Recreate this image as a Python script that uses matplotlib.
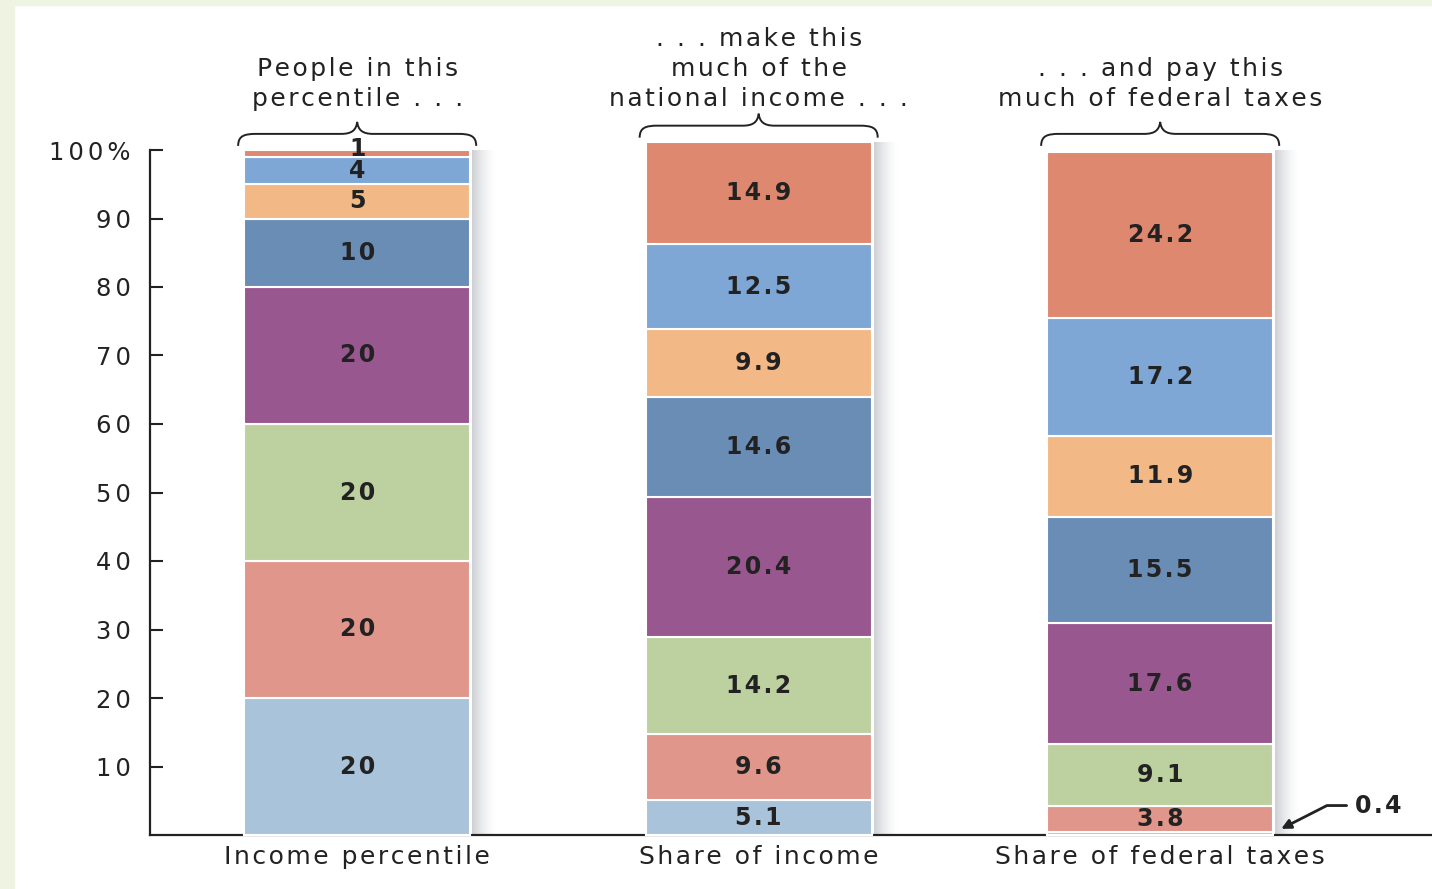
import matplotlib
matplotlib.use('Agg')
import matplotlib.pyplot as plt
import numpy as np
from matplotlib.path import Path
from matplotlib.patches import PathPatch, Rectangle

plt.rcParams['font.family'] = ['DejaVu Sans']

# bottom to top: lowest fifth ... top 1 percent
people = [20, 20, 20, 20, 10, 5, 4, 1]
income = [5.1, 9.6, 14.2, 20.4, 14.6, 9.9, 12.5, 14.9]
taxes = [0.4, 3.8, 9.1, 17.6, 15.5, 11.9, 17.2, 24.2]
columns = [people, income, taxes]
xlabels = ['Income percentile', 'Share of income', 'Share of federal taxes']
headers = ['People in this\npercentile . . .',
           '. . . make this\nmuch of the\nnational income . . .',
           '. . . and pay this\nmuch of federal taxes']
colors = ['#a9c4da', '#e0968a', '#bdd0a0', '#98578f',
          '#6a8db5', '#f2b986', '#7fa7d6', '#de8870']
yticks = [10, 20, 30, 40, 50, 60, 70, 80, 90, 100]
ytick_labels = ['10', '20', '30', '40', '50', '60', '70', '80', '90', '100%']


def tracked(s, gap='\u200a'):
    # widen letter spacing with narrow spaces, line by line
    return '\n'.join(gap.join(line) for line in s.split('\n'))


ink = '#222222'
fs = 18
W, H = 1432, 889
fig = plt.figure(figsize=(W / 100, H / 100), dpi=100)
fig.patches.append(Rectangle((0, 0), 14 / W, 1, transform=fig.transFigure,
                             color='#eef3e2', zorder=0))
fig.patches.append(Rectangle((0, 1 - 5 / H), 1, 5 / H, transform=fig.transFigure,
                             color='#eef3e2', zorder=0))

ax = fig.add_axes([150 / W, 54 / H, (W - 150) / W, 685 / H])
ax.set_xlim(-0.516, 2.677)
ax.set_ylim(0, 100)

width = 0.563
px = 1 / 401.5    # one pixel in x data units
py = 100 / 685    # one pixel in y data units

for i, vals in enumerate(columns):
    bottom = 0
    for v, c in zip(vals, colors):
        ax.bar(i, v, width, bottom=bottom, color=c, edgecolor='white',
               linewidth=1.5, clip_on=False, zorder=3)
        if v >= 1:
            # a very thin slice gets its label on its upper edge
            y_lab = bottom + v / 2 if v >= 2 else bottom + v + 0.2
            ax.text(i, y_lab, tracked(f'{v:g}'), ha='center',
                    va='center', fontsize=17, fontweight='semibold', color=ink,
                    zorder=5, clip_on=False)
        bottom += v
    top = max(bottom, 100)

    # soft shadow on the right edge of each column
    x_edge = i + width / 2 + 2 * px
    steps = 24
    for k in range(steps):
        a = 0.42 * (1 - k / steps) ** 1.6
        ax.add_patch(Rectangle((x_edge + k * px, 0), px, top, color='#8a9099',
                               alpha=a, linewidth=0, zorder=2, clip_on=False))

    # curly brace above the column
    x0 = i - width / 2 - 6 * px
    x1 = i + width / 2 + 6 * px
    yb = top + 0.6
    ym = yb + 12 * py
    yt = yb + 24 * py
    verts = [
        (x0, yb), (x0, ym - 2 * py), (x0 + 6 * px, ym), (x0 + 18 * px, ym),
        (i - 16 * px, ym),
        (i - 5 * px, ym), (i - 1 * px, ym + 4 * py), (i, yt),
        (i + 1 * px, ym + 4 * py), (i + 5 * px, ym), (i + 16 * px, ym),
        (x1 - 18 * px, ym),
        (x1 - 6 * px, ym), (x1, ym - 2 * py), (x1, yb),
    ]
    codes = [Path.MOVETO, Path.CURVE4, Path.CURVE4, Path.CURVE4,
             Path.LINETO,
             Path.CURVE4, Path.CURVE4, Path.CURVE4,
             Path.CURVE4, Path.CURVE4, Path.CURVE4,
             Path.LINETO,
             Path.CURVE4, Path.CURVE4, Path.CURVE4]
    ax.add_patch(PathPatch(Path(verts, codes), facecolor='none', edgecolor=ink,
                           linewidth=1.4, clip_on=False, zorder=4))

    ax.text(i, 100 + 0.6 + 24 * py + 11 * py, tracked(headers[i]),
            ha='center', va='bottom', fontsize=fs, color=ink,
            linespacing=1.32, clip_on=False)

# the smallest tax share is labelled outside its column
ax.annotate(tracked('0.4'), xy=(2 + width / 2 + 8 * px, 0.9), xytext=(2.485, 4.3),
            ha='left', va='center', fontsize=17, fontweight='semibold', color=ink,
            arrowprops=dict(arrowstyle='-|>', color=ink, lw=2,
                            connectionstyle='angle,angleA=0,angleB=27,rad=0',
                            shrinkA=4, shrinkB=0, mutation_scale=14))

for s in ['top', 'right']:
    ax.spines[s].set_visible(False)
ax.spines['left'].set_linewidth(1.6)
ax.spines['bottom'].set_linewidth(1.6)
ax.spines['left'].set_color(ink)
ax.spines['bottom'].set_color(ink)

ax.set_yticks(yticks)
ax.set_yticklabels([tracked(t, '\u2006') for t in ytick_labels])
ax.tick_params(axis='y', direction='in', length=9.5, width=1.5, color=ink,
               labelsize=17.5, labelcolor=ink, pad=14)
ax.set_xticks(range(3))
ax.set_xticklabels([tracked(t) for t in xlabels])
ax.tick_params(axis='x', length=0, labelsize=fs, labelcolor=ink, pad=7)
ax.patch.set_alpha(0)

fig.savefig('out.png', dpi=100)
